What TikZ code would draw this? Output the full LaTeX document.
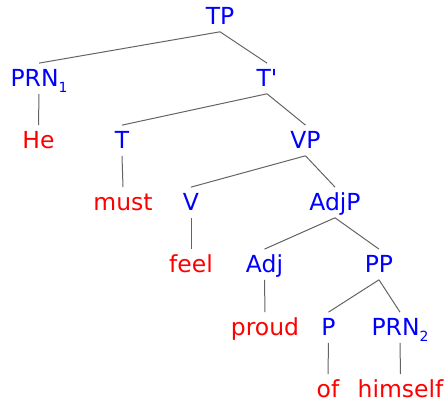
\documentclass[tikz,border=0pt]{standalone}
\usepackage{fontspec}
\setmainfont{DejaVu Sans}
\usepackage{tikz}
\usetikzlibrary{positioning}
\usepackage{xcolor}
\definecolor{catblue}{RGB}{0,0,255}
\definecolor{wordred}{RGB}{255,0,0}
\definecolor{edgegray}{RGB}{100,100,100}
\newcommand{\subidx}[1]{\raisebox{-3.8pt}{\fontsize{10.5pt}{12pt}\selectfont #1}}

\begin{document}
\begin{tikzpicture}[
    x=0.75pt, y=-0.75pt,
    every node/.style={font=\fontsize{17.6pt}{21pt}\selectfont, anchor=base,
        text height=12.8pt, text depth=0pt, inner xsep=0pt, inner ysep=4.9pt},
    cat/.style={text=catblue},
    word/.style={text=wordred},
    edge/.style={draw=edgegray, line width=0.75pt},
]
\useasboundingbox (0,0) rectangle (444,402);

% === ROOT ===
\node[cat] (tp) at (220,25) {TP};

% === LEVEL 1 ===
\node[cat] (prn1) at (39,87) {PRN\subidx{1}};
\node[cat] (tbar) at (267,87) {T\textquotesingle};

% === LEVEL 2 ===
\node[word] (he) at (38.5,149) {He};
\node[cat] (t) at (122,149) {T};
\node[cat] (vp) at (305.5,149) {VP};

% === LEVEL 3 ===
\node[word] (must) at (123,211) {must};
\node[cat] (v) at (191,211) {V};
\node[cat] (adjp) at (335,211) {AdjP};

% === LEVEL 4 ===
\node[word] (feel) at (191,273) {feel};
\node[cat] (adj) at (264.5,273) {Adj};
\node[cat] (pp) at (379,273) {PP};

% === LEVEL 5 ===
\node[word] (proud) at (265,336) {proud};
\node[cat] (p) at (328.5,336) {P};
\node[cat] (prn2) at (400,336) {PRN\subidx{2}};

% === LEVEL 6 ===
\node[word] (of) at (328,398) {of};
\node[word] (himself) at (400.5,398) {himself};

% === EDGES ===
% Clause
\draw[edge] (tp.south) -- (prn1.north);
\draw[edge] (tp.south) -- (tbar.north);
\draw[edge] (prn1.south) -- (he.north);

% Tense
\draw[edge] (tbar.south) -- (t.north);
\draw[edge] (tbar.south) -- (vp.north);
\draw[edge] (t.south) -- (must.north);

% Verb phrase
\draw[edge] (vp.south) -- (v.north);
\draw[edge] (vp.south) -- (adjp.north);
\draw[edge] (v.south) -- (feel.north);

% Adjective phrase
\draw[edge] (adjp.south) -- (adj.north);
\draw[edge] (adjp.south) -- (pp.north);
\draw[edge] (adj.south) -- (proud.north);

% Prepositional phrase
\draw[edge] (pp.south) -- (p.north);
\draw[edge] (pp.south) -- (prn2.north);
\draw[edge] (p.south) -- (of.north);
\draw[edge] (prn2.south) -- (himself.north);

\end{tikzpicture}
\end{document}
